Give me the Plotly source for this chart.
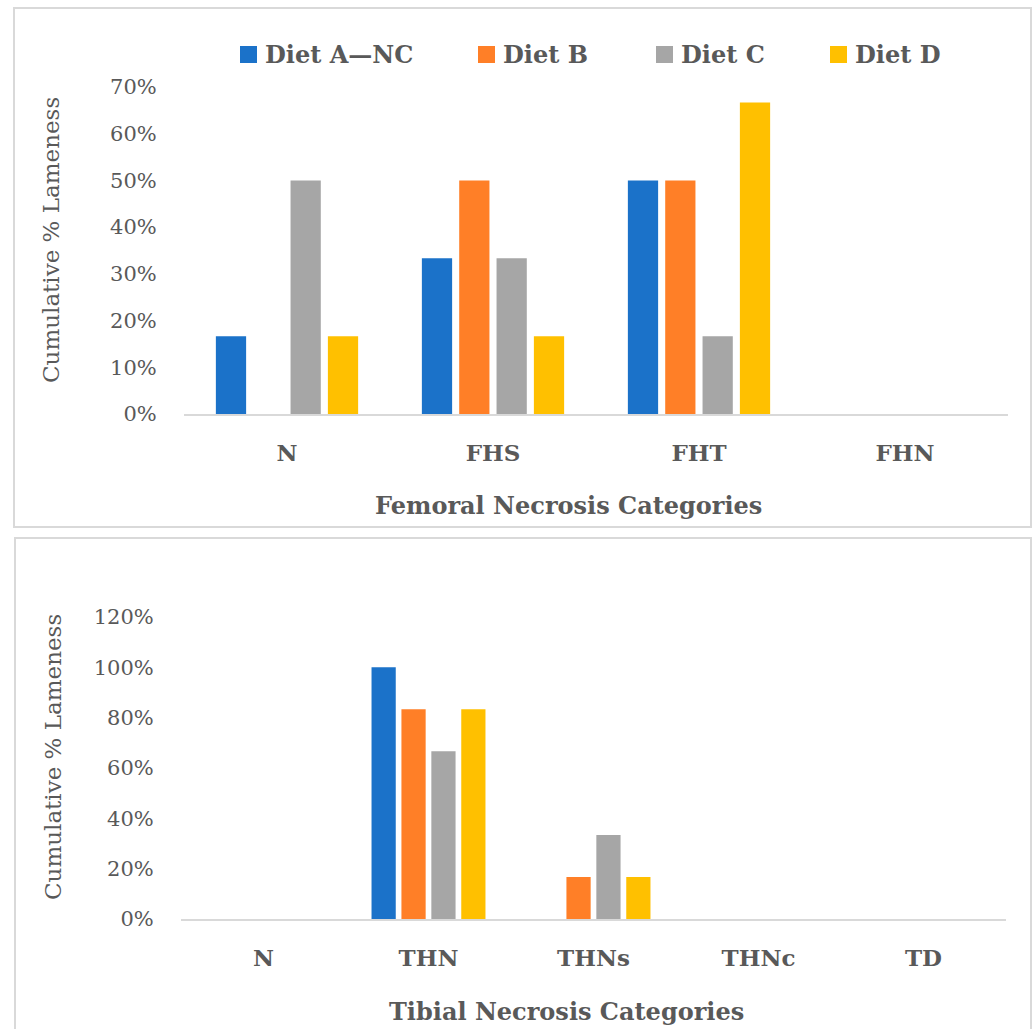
import plotly.graph_objects as go

# ---- data -------------------------------------------------------------
diets = ["Diet A\u2014NC", "Diet B", "Diet C", "Diet D"]
colors = ["#1B72C9", "#FF7F27", "#A6A6A6", "#FFC000"]

femoral_cats = ["N", "FHS", "FHT", "FHN"]
femoral_vals = [
    [0.1667, 0.3333, 0.5000, 0.0],   # Diet A—NC
    [0.0,    0.5000, 0.5000, 0.0],   # Diet B
    [0.5000, 0.3333, 0.1667, 0.0],   # Diet C
    [0.1667, 0.1667, 0.6667, 0.0],   # Diet D
]

tibial_cats = ["N", "THN", "THNs", "THNc", "TD"]
tibial_vals = [
    [0.0, 1.0000, 0.0,    0.0, 0.0],  # Diet A—NC
    [0.0, 0.8333, 0.1667, 0.0, 0.0],  # Diet B
    [0.0, 0.6667, 0.3333, 0.0, 0.0],  # Diet C
    [0.0, 0.8333, 0.1667, 0.0, 0.0],  # Diet D
]

femoral_ticks = [0, 0.1, 0.2, 0.3, 0.4, 0.5, 0.6, 0.7]
tibial_ticks = [0, 0.2, 0.4, 0.6, 0.8, 1.0, 1.2]

# ---- layout helpers ---------------------------------------------------
W, H = 1035, 1029
FONT = "DejaVu Serif"
TXT = "#595959"
LINE = "#D9D9D9"


def fx(px):
    return px / W


def fy(py):
    return 1 - py / H


fig = go.Figure()

for i, name in enumerate(diets):
    fig.add_trace(go.Bar(
        x=femoral_cats, y=femoral_vals[i], name=name,
        marker=dict(color=colors[i], line=dict(width=0)),
        xaxis="x", yaxis="y", showlegend=False,
    ))
    fig.add_trace(go.Bar(
        x=tibial_cats, y=tibial_vals[i], name=name,
        marker=dict(color=colors[i], line=dict(width=0)),
        xaxis="x2", yaxis="y2", showlegend=False,
    ))

xaxis_common = dict(
    type="category", showgrid=False, zeroline=False, automargin=False,
    showline=True, linecolor=LINE, linewidth=2,
    ticks="outside", ticklen=17, tickcolor="rgba(0,0,0,0)",
    tickfont=dict(family=FONT, size=23, color=TXT, weight="bold"),
)
yaxis_common = dict(
    showgrid=False, zeroline=False, showline=False, automargin=False,
    tickformat=".0%", ticks="outside", ticklen=22,
    tickcolor="rgba(0,0,0,0)",
    tickfont=dict(family=FONT, size=21, color=TXT),
)

fig.update_layout(
    width=W, height=H, autosize=False,
    margin=dict(l=0, r=0, t=0, b=0, pad=0),
    paper_bgcolor="white", plot_bgcolor="white",
    barmode="group", bargap=0.275, bargroupgap=0.19,
    xaxis=dict(xaxis_common, domain=[fx(184), fx(1008)], anchor="y"),
    yaxis=dict(yaxis_common, domain=[fy(414), fy(87)], range=[0, 0.7],
               tickvals=femoral_ticks, anchor="x"),
    xaxis2=dict(xaxis_common, domain=[fx(181), fx(1006)], anchor="y2"),
    yaxis2=dict(yaxis_common, domain=[fy(919), fy(617)], range=[0, 1.2],
                tickvals=tibial_ticks, anchor="x2"),
)

# panel frames
shapes = [
    dict(type="rect", xref="paper", yref="paper",
         x0=fx(14), x1=fx(1031), y0=fy(527), y1=fy(8),
         line=dict(color=LINE, width=2), fillcolor="rgba(0,0,0,0)", layer="below"),
    dict(type="rect", xref="paper", yref="paper",
         x0=fx(15), x1=fx(1031), y0=fy(1040), y1=fy(538),
         line=dict(color=LINE, width=2), fillcolor="rgba(0,0,0,0)", layer="below"),
]

annotations = []

# legend (top panel)
legend_left = [240, 478, 656, 830]
SQ = 17
legend_cy = 54.5
for name, col, lx in zip(diets, colors, legend_left):
    shapes.append(dict(
        type="rect", xref="paper", yref="paper",
        x0=fx(lx), x1=fx(lx + SQ), y0=fy(legend_cy + SQ / 2), y1=fy(legend_cy - SQ / 2),
        line=dict(width=0), fillcolor=col,
    ))
    annotations.append(dict(
        text=name, xref="paper", yref="paper",
        x=fx(lx + SQ + 6), y=fy(legend_cy), xanchor="left", yanchor="middle",
        showarrow=False,
        font=dict(family=FONT, size=24, color=TXT, weight="bold"),
    ))

# axis titles
for text, cx, cy in [("Femoral Necrosis Categories", 568, 505),
                     ("Tibial Necrosis Categories", 566, 1011)]:
    annotations.append(dict(
        text=text, xref="paper", yref="paper", x=fx(cx), y=fy(cy),
        xanchor="center", yanchor="middle", showarrow=False,
        font=dict(family=FONT, size=24, color=TXT, weight="bold"),
    ))

for cx, cy in [(51, 240), (53, 757)]:
    annotations.append(dict(
        text="Cumulative % Lameness", xref="paper", yref="paper",
        x=fx(cx), y=fy(cy), xanchor="center", yanchor="middle",
        textangle=-90, showarrow=False,
        font=dict(family=FONT, size=23, color=TXT),
    ))

fig.update_layout(shapes=shapes, annotations=annotations)

fig.write_html("out.html")
